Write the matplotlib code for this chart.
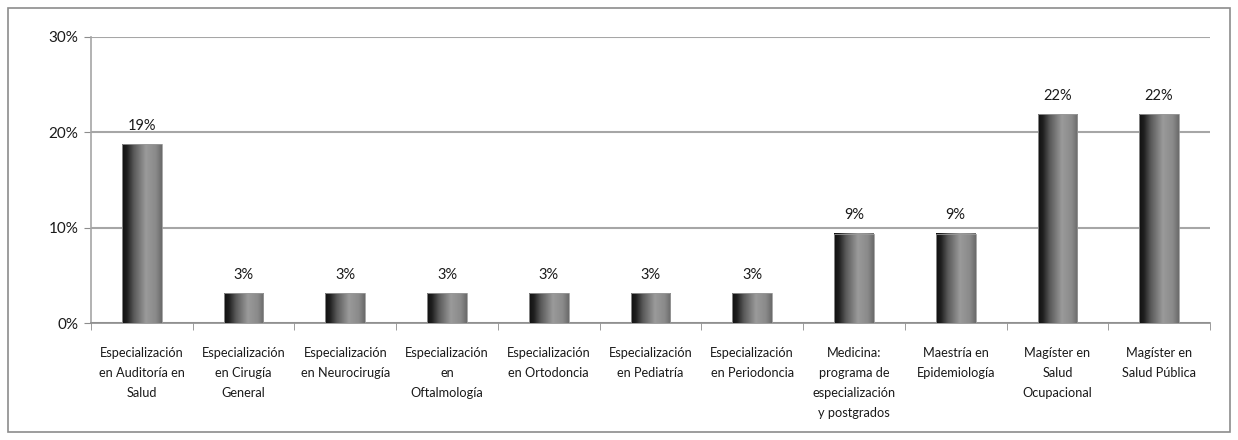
import numpy as np
import matplotlib
matplotlib.use('Agg')
import matplotlib.pyplot as plt
from matplotlib.colors import LinearSegmentedColormap
from matplotlib.patches import Rectangle

# data (share of 32 responses)
categories = [
    'Especialización\nen Auditoría en\nSalud',
    'Especialización\nen Cirugía\nGeneral',
    'Especialización\nen Neurocirugía',
    'Especialización\nen\nOftalmología',
    'Especialización\nen Ortodoncia',
    'Especialización\nen Pediatría',
    'Especialización\nen Periodoncia',
    'Medicina:\nprograma de\nespecialización\ny postgrados',
    'Maestría en\nEpidemiología',
    'Magíster en\nSalud\nOcupacional',
    'Magíster en\nSalud Pública',
]
values = [18.75, 3.125, 3.125, 3.125, 3.125, 3.125, 3.125, 9.375, 9.375, 21.875, 21.875]
value_labels = ['19%', '3%', '3%', '3%', '3%', '3%', '3%', '9%', '9%', '22%', '22%']
y_ticks = [0, 10, 20, 30]

plt.rcParams['font.family'] = ['Lato', 'DejaVu Sans']

fig = plt.figure(figsize=(12.38, 4.40), dpi=100)
fig.patches.append(Rectangle((8 / 1238, 8 / 440), 1222 / 1238, 424 / 440,
                             transform=fig.transFigure, fill=False,
                             edgecolor='#8c8c8c', linewidth=1.2))
ax = fig.add_axes([91 / 1238, 1 - 323 / 440, (1210 - 91) / 1238, (323 - 37) / 440])

x = np.arange(len(values))
width = 0.39
bars = ax.bar(x, values, width=width, color='none', zorder=3)

# gradient fill for each bar (dark left edge, light middle, darker right)
cmap = LinearSegmentedColormap.from_list('bar', [
    (0.0, '#101010'), (0.12, '#1e1e1e'), (0.3, '#5a5a5a'),
    (0.6, '#9a9a9a'), (0.85, '#8a8a8a'), (1.0, '#6a6a6a')])
grad = np.linspace(0, 1, 256).reshape(1, -1)
for b in bars:
    x0, w, h = b.get_x(), b.get_width(), b.get_height()
    ax.imshow(grad, cmap=cmap, aspect='auto', extent=[x0, x0 + w, 0, h],
              zorder=3, interpolation='bilinear')
    ax.add_patch(Rectangle((x0, 0), w, h, fill=False, edgecolor='#9a9a9a',
                           linewidth=0.6, zorder=4))

for xi, v, lab in zip(x, values, value_labels):
    ax.text(xi, v + 1.2, lab, ha='center', va='bottom', fontsize=10.5, color='#1a1a1a')

ax.set_xlim(-0.5, len(values) - 0.5)
ax.set_ylim(0, 30)
ax.set_yticks(y_ticks)
ax.set_yticklabels([f'{t}%' for t in y_ticks], fontsize=11, color='#1a1a1a')
ax.yaxis.grid(True, color='#a6a6a6', linewidth=1.5, zorder=0)
ax.set_axisbelow(True)

ax.set_xticks(x)
ax.set_xticklabels(categories, fontsize=9.2, color='#1a1a1a', linespacing=1.8)
ax.tick_params(axis='x', length=0, pad=17)
ax.set_xticks(np.arange(-0.5, len(values), 1), minor=True)
ax.tick_params(axis='x', which='minor', length=5, color='#8c8c8c')
ax.tick_params(axis='y', length=5, color='#8c8c8c', pad=4)

for s in ['top', 'right']:
    ax.spines[s].set_visible(False)
ax.spines['left'].set_color('#a6a6a6')
ax.spines['bottom'].set_color('#8c8c8c')
ax.spines['left'].set_linewidth(1.2)
ax.spines['bottom'].set_linewidth(1.2)

fig.savefig('out.png', dpi=100)
